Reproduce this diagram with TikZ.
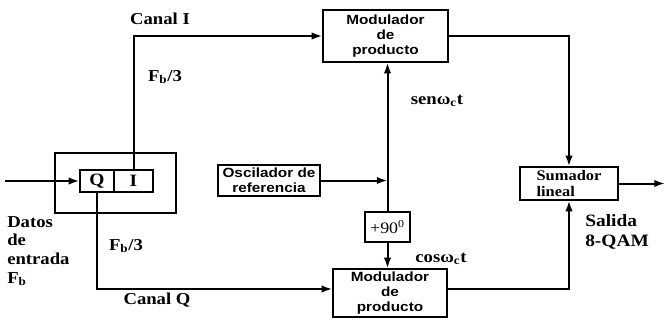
\documentclass[tikz,border=0pt]{standalone}
\usepackage{fontspec}
\newfontfamily\serifb[FakeStretch=1.12]{Liberation Serif}
\newfontfamily\sansb[FakeStretch=1.15]{Liberation Sans}
\usetikzlibrary{arrows.meta,calc}

\tikzset{
  bloque/.style={draw,line width=0.9pt,align=center,inner sep=1pt,
    font=\sansb\bfseries\fontsize{10}{11.3}\selectfont},
  flecha/.style={line width=1.5pt,-{Latex[length=8pt,width=5.5pt]}},
  etiq/.style={font=\serifb\bfseries\fontsize{12.5}{14}\selectfont,align=left,inner sep=0pt},
}

\begin{document}
\begin{tikzpicture}[x=0.75pt,y=-0.75pt]
  \useasboundingbox (0,0) rectangle (666,321);
  % bloques
  \node[bloque,minimum width=93.75pt,minimum height=39pt] (modI) at (385.5,36) {Modulador\\de\\producto};
  \node[bloque,minimum width=85.5pt,minimum height=36pt] (modQ) at (390,293) {Modulador\\de\\producto};
  \node[bloque,minimum width=76.5pt,minimum height=23.25pt] (osc) at (269,180.5) {Oscilador de\\referencia};
  \node[bloque,minimum width=33.75pt,minimum height=22.5pt,font=\serifb\fontsize{12}{13}\selectfont] (desf) at (387.5,227) {+90\textsuperscript{0}};
  \node[bloque,minimum width=73.5pt,minimum height=24.75pt,align=left,font=\serifb\bfseries\fontsize{11}{11.3}\selectfont] (suma) at (569,183.5) {Sumador\\lineal};
  % divisor de fase
  \node[draw,line width=0.9pt,minimum width=90.75pt,minimum height=45pt] (caja) at (115.5,183) {};
  \node[bloque,minimum width=25.5pt,minimum height=16.5pt,font=\serifb\bfseries\fontsize{13}{14}\selectfont] (celQ) at (97,181) {Q};
  \node[bloque,minimum width=29.25pt,minimum height=16.5pt,font=\serifb\bfseries\fontsize{13}{14}\selectfont] (celI) at (133.5,181) {I};
  \coordinate (ent) at (5,181);
  \coordinate (sal) at (665,183.5);

  % conexiones
  \draw[flecha] (ent) -- (celQ.west);
  \draw[flecha] (celI.north) |- (modI.west);
  \draw[flecha] (celQ.south) |- ([yshift=3pt]modQ.west);
  \draw[flecha] (osc.east) -- (osc.east -| desf.north);
  \draw[flecha] (desf.north) -- (desf.north |- modI.south);
  \draw[flecha] (desf.south) -- (desf.south |- modQ.north);
  \draw[flecha] (modI.east) -| (suma.north);
  \draw[flecha] ([yshift=3pt]modQ.east) -| (suma.south);
  \draw[flecha] (suma.east) -- (sal);

  % etiquetas
  \node[etiq] (canalI) at (160,19) {Canal I};
  \node[etiq] (fbI) at (165,77) {F\textsubscript{b}/3};
  \node[etiq] (fbQ) at (126,246) {F\textsubscript{b}/3};
  \node[etiq] (canalQ) at (157,300) {Canal Q};
  \node[etiq,anchor=north west] (datos) at (7,216) {Datos\\de\\entrada\\F\textsubscript{b}};
  \node[etiq] (sen) at (437,101) {senω\textsubscript{c}t};
  \node[etiq] (cos) at (441,259) {cosω\textsubscript{c}t};
  \node[etiq,anchor=west,font=\serifb\bfseries\fontsize{13}{15}\selectfont] (salida) at (585,232) {Salida\\8-QAM};
\end{tikzpicture}
\end{document}
